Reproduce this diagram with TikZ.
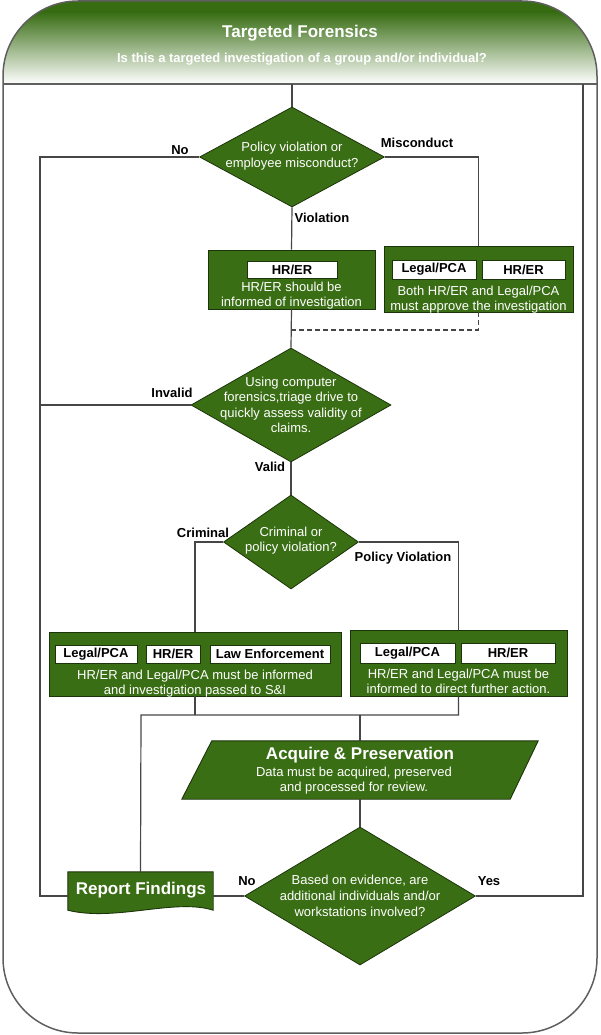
\documentclass[tikz,border=0pt]{standalone}
\usepackage{fontspec}
\setmainfont{Liberation Sans}
\usetikzlibrary{shapes.geometric,calc}
\definecolor{gfill}{RGB}{58,110,20}
\definecolor{gborder}{RGB}{28,52,10}
\definecolor{linegray}{RGB}{70,70,70}
\definecolor{framegray}{RGB}{95,95,95}
\definecolor{hdark}{RGB}{55,108,18}
\definecolor{hmid}{RGB}{82,138,45}
\begin{document}
\begin{tikzpicture}[x=1pt,y=-1pt,
  conn/.style={draw=linegray, line width=1.2pt},
  dashconn/.style={draw=linegray, line width=1.2pt, dashed, dash pattern=on 5pt off 3pt},
  gbox/.style={draw=gborder, fill=gfill, line width=0.9pt, inner sep=0pt, rectangle},
  wbox/.style={draw=gborder, fill=white, line width=0.8pt, inner sep=0pt, rectangle,
    font=\bfseries\fontsize{13}{15}\selectfont},
  dia/.style={diamond, draw=gborder, fill=gfill, line width=0.8pt, inner sep=0pt},
  wtext/.style={text=white, font=\fontsize{13}{15.5}\selectfont, align=center, inner sep=0pt},
  lbl/.style={font=\bfseries\fontsize{13}{15}\selectfont, inner sep=0pt},
  bigw/.style={text=white, font=\bfseries\fontsize{17}{20}\selectfont, inner sep=0pt},
  ghost/.style={rectangle, inner sep=0pt, draw=none}
]
\useasboundingbox (0,0) rectangle (600,1035);

% header gradient
\begin{scope}
  \clip[rounded corners=75pt] (3,1) rectangle (597,1033);
  \fill[hdark] (0,0) rectangle (600,12);
  \shade[top color=hdark, middle color=hmid, bottom color=white] (0,12) rectangle (600,84);
\end{scope}
\draw[draw=framegray, line width=1.3pt] (3,84) -- (597,84);
\draw[draw=framegray, line width=1.5pt, rounded corners=75pt] (3,1) rectangle (597,1033);

\node[bigw] (title) at (300,33) {Targeted Forensics};
\node[text=white, font=\bfseries\fontsize{13}{15}\selectfont, inner sep=0pt] (subtitle) at (302,59)
  {Is this a targeted investigation of a group and/or individual?};

\coordinate (htop) at (292,84);
\coordinate (hright) at (583,84);
\coordinate (lt) at (40,157);

% diamond 1
\node[dia, minimum width=185pt, minimum height=100pt] (d1) at (292,157) {};
\node[wtext] (d1t) at (292,156) {Policy violation or\\employee misconduct?};
\node[lbl] (lno1) at (180,150) {No};
\node[lbl] (lmis) at (417,143) {Misconduct};
\node[lbl] (lvio) at (322,218) {Violation};

% box 1
\node[gbox, minimum width=167pt, minimum height=59pt] (b1) at (291.5,279.5) {};
\node[wbox, minimum width=90pt, minimum height=17pt] (b1w) at (292,269.5) {HR/ER};
\node[wtext] (b1t) at (291.5,295.5) {HR/ER should be\\informed of investigation};

% box 2
\node[gbox, minimum width=189pt, minimum height=66pt] (b2) at (478.5,279) {};
\node[wbox, minimum width=84pt, minimum height=19pt] (b2a) at (434,269.5) {Legal/PCA};
\node[wbox, minimum width=83pt, minimum height=19pt] (b2b) at (523.5,269.5) {HR/ER};
\node[wtext] (b2t) at (478.5,299.5) {Both HR/ER and Legal/PCA\\must approve the investigation};

% diamond 2
\node[dia, minimum width=200pt, minimum height=114pt] (d2) at (291,405) {};
\node[wtext] (d2t) at (291,405) {Using computer\\forensics,triage drive to\\quickly assess validity of\\claims.};
\node[lbl] (linv) at (172,393) {Invalid};
\node[lbl] (lval) at (270,467) {Valid};
\coordinate (dj) at (292,330);

% diamond 3
\node[dia, minimum width=135pt, minimum height=94pt] (d3) at (291,542) {};
\node[wtext] (d3t) at (291,540.5) {Criminal or\\policy violation?};
\node[lbl] (lcrim) at (203,533) {Criminal};
\node[lbl] (lpol) at (403,558) {Policy Violation};

% box 3
\node[gbox, minimum width=292pt, minimum height=64pt] (b3) at (195,664) {};
\node[wbox, minimum width=82pt, minimum height=18pt] (b3a) at (96,654) {Legal/PCA};
\node[wbox, minimum width=54pt, minimum height=18pt] (b3b) at (173,654) {HR/ER};
\node[wbox, minimum width=120pt, minimum height=18pt] (b3c) at (270,654) {Law Enforcement};
\node[wtext] (b3t) at (195,683.5) {HR/ER and Legal/PCA must be informed\\and investigation passed to S\&I};

% box 4
\node[gbox, minimum width=217pt, minimum height=66pt] (b4) at (458.5,663) {};
\node[wbox, minimum width=95pt, minimum height=20pt] (b4a) at (407.5,653) {Legal/PCA};
\node[wbox, minimum width=94pt, minimum height=20pt] (b4b) at (508,653) {HR/ER};
\node[wtext] (b4t) at (458.5,681.5) {HR/ER and Legal/PCA must be\\informed to direct further action.};

\coordinate (jl) at (141,715);
\coordinate (jc) at (360,715);

% parallelogram
\node[ghost, minimum width=356pt, minimum height=58pt] (pg) at (360,770) {};
\draw[draw=gborder, fill=gfill, line width=0.9pt]
  (pg.south west) -- ([xshift=30pt]pg.north west) -- (pg.north east) -- ([xshift=-28pt]pg.south east) -- cycle;
\node[bigw] (pgt) at (360,755) {Acquire \& Preservation};
\node[wtext] (pgs) at (354,780.5) {Data must be acquired, preserved\\and processed for review.};

% diamond 4
\node[dia, minimum width=231pt, minimum height=138pt] (d4) at (360,896) {};
\node[wtext, font=\fontsize{13}{16}\selectfont] (d4t) at (360,896) {Based on evidence, are\\additional individuals and/or\\workstations involved?};
\node[lbl] (lno2) at (247,881) {No};
\node[lbl] (lyes) at (489,881) {Yes};

% report findings
\node[ghost, minimum width=145pt, minimum height=38pt] (rf) at (140.5,891) {};
\draw[draw=gborder, fill=gfill, line width=0.9pt]
  (rf.north west) -- (rf.north east) -- (rf.south east)
  .. controls (175,898) and (115,922) .. (rf.south west) -- cycle;
\node[bigw] (rft) at (141,890) {Report Findings};

% connectors
\draw[conn] (htop) -- (d1.north);
\draw[conn] (d1.west) -- (lt) -- (d4.west -| lt) -- (d4.west -| rf.west);
\draw[conn] (d2.west) -- (d2.west -| lt);
\draw[conn] (d1.east) -| (b2.north);
\draw[conn] (d1.south) -- (b1.north);
\draw[conn] (b1.south) -- (d2.north);
\draw[dashconn] (b2.south) |- (dj);
\draw[conn] (d2.south) -- (d3.north);
\draw[conn] (d3.west) -| (b3.north);
\draw[conn] (d3.east) -| (b4.north);
\draw[conn] (b3.south) -- (b3.south |- jl);
\draw[conn] (b4.south) |- (jl) -- (rf.north);
\draw[conn] (jc) -- (pg.north);
\draw[conn] (pg.south) -- (d4.north);
\draw[conn] (d4.west) -- (d4.west -| rf.east);
\draw[conn] (d4.east) -| (hright);
\end{tikzpicture}
\end{document}
